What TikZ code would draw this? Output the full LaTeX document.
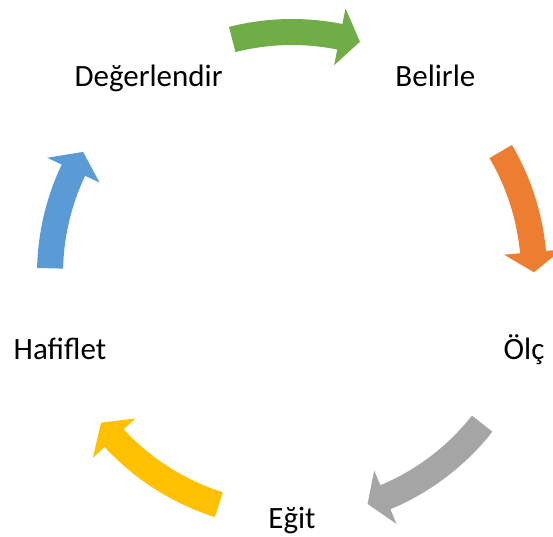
\documentclass[tikz,border=0pt]{standalone}
\usepackage{fontspec}
\setmainfont{Carlito}
\usetikzlibrary{calc}
\definecolor{ringgreen}{HTML}{70AD47}
\definecolor{ringorange}{HTML}{ED7D31}
\definecolor{ringgray}{HTML}{A5A5A5}
\definecolor{ringyellow}{HTML}{FFC000}
\definecolor{ringblue}{HTML}{5B9BD5}
\tikzset{
  every picture/.style={line join=miter},
  % step labels: the middle of the capitals sits on the ring
  lbl/.style={anchor=base, yshift=-10pt, inner sep=0pt, font=\fontsize{31}{37}\selectfont},
}
% block arrow on the ring (radius 242, body 26 wide, head 58 wide)
% #1 colour, #2 tail angle, #3 angle of the head base, #4 tip angle
\newcommand\ringarrow[4]{%
  \fill[#1] ($(c)+(#2:255)$) arc[start angle=#2, end angle=#3, radius=255]
    -- ($(c)+(#3:271)$) -- ($(c)+(#4:242)$) -- ($(c)+(#3:213)$)
    -- ($(c)+(#3:229)$) arc[start angle=#3, end angle=#2, radius=229] -- cycle;}

\begin{document}
\begin{tikzpicture}[x=1pt, y=1pt]
  \useasboundingbox (0,0) rectangle (553,536);
  \coordinate (c) at (292,262);
  % ---------------- steps
  \node[lbl] (belirle) at ($(c)+(54:244)$) {Belirle};
  \node[lbl] (olc) at ($(c)+(-18:244)$) {Ölç};
  \node[lbl] (egit) at ($(c)+(-90:244)$) {Eğit};
  \node[lbl] (hafiflet) at ($(c)+(198:244)$) {Hafiflet};
  \node[lbl] (degerlendir) at ($(c)+(126:244)$) {Değerlendir};
  % ---------------- arrows, clockwise
  \ringarrow{ringgreen}{104.3}{78.6}{73.7}
  \ringarrow{ringorange}{30.4}{5.2}{0.4}
  \ringarrow{ringgray}{-38.2}{-67.3}{-71.8}
  \ringarrow{ringyellow}{-107.6}{-137.3}{-142.1}
  \ringarrow{ringblue}{178.65}{154.6}{149.7}
\end{tikzpicture}
\end{document}
